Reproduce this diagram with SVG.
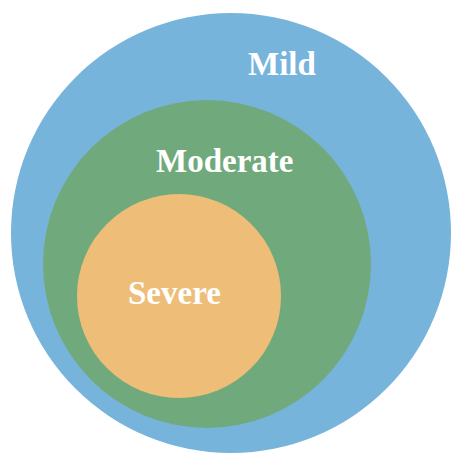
<svg xmlns="http://www.w3.org/2000/svg" width="451" height="453" viewBox="0 0 451 453">
<style>
.lbl{font-family:"Liberation Serif","Times New Roman",serif;font-weight:bold;font-size:33px;fill:#ffffff}
</style>
<rect width="451" height="453" fill="#ffffff"/>
<g id="mild">
<circle cx="231" cy="233" r="220" fill="#77B4DB"/>
<text class="lbl" x="248" y="75">Mild</text>
</g>
<g id="moderate">
<circle cx="207" cy="264" r="164" fill="#70AA7C"/>
<text class="lbl" x="156" y="172">Moderate</text>
</g>
<g id="severe">
<circle cx="179" cy="296" r="102" fill="#EEBE78"/>
<text class="lbl" x="128" y="304">Severe</text>
</g>
<g id="connectors"/>
</svg>
